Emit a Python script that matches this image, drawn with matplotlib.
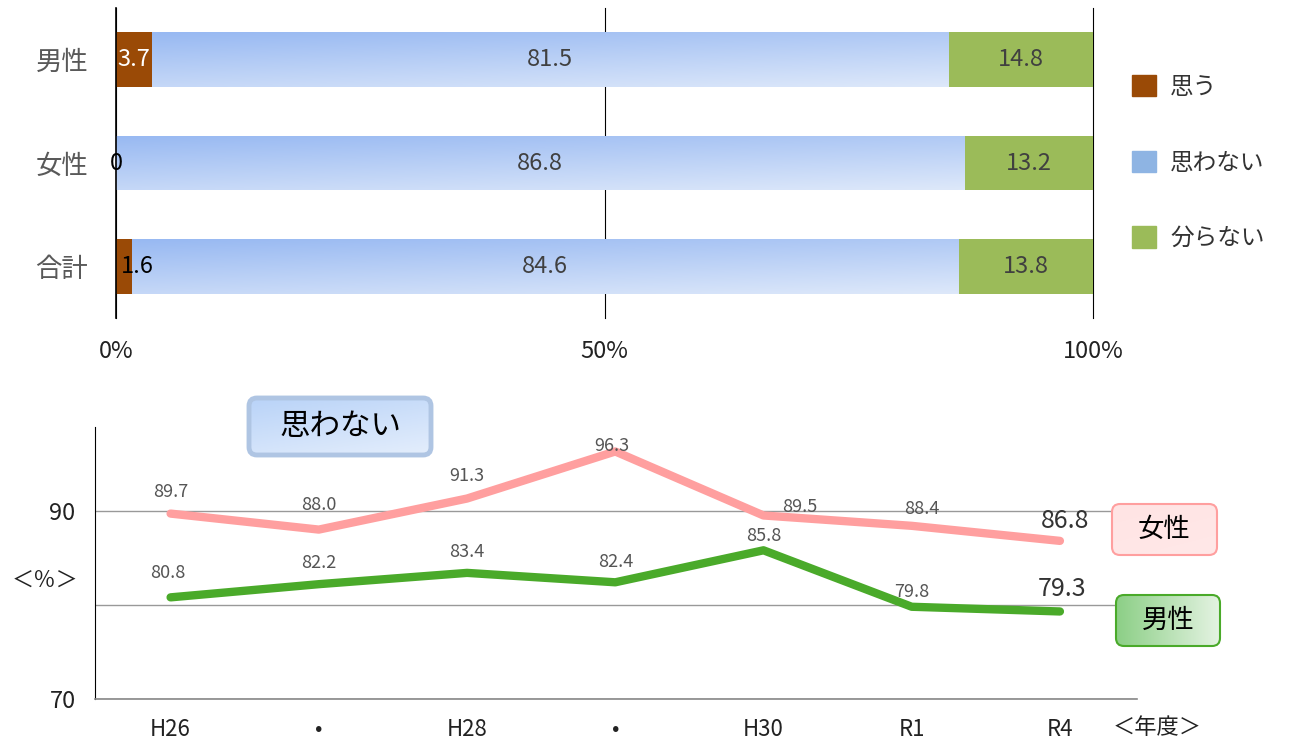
import matplotlib.pyplot as plt
import numpy as np
from matplotlib.colors import to_rgb
from matplotlib.patches import FancyBboxPatch, Patch

plt.rcParams['font.family'] = ['Noto Sans CJK JP', 'DejaVu Sans']

# --- top chart: stacked shares (%) ---
groups = ["男性", "女性", "合計"]
series_names = ["思う", "思わない", "分らない"]
omou = [3.7, 0.0, 1.6]
omowanai = [81.5, 86.8, 84.6]
wakaranai = [14.8, 13.2, 13.8]

# --- bottom chart: "思わない" trend (%) ---
years = ["H26", "•", "H28", "•", "H30", "R1", "R4"]
female = [89.7, 88.0, 91.3, 96.3, 89.5, 88.4, 86.8]
male = [80.8, 82.2, 83.4, 82.4, 85.8, 79.8, 79.3]

BROWN = "#9A4A06"
GREEN = "#9BBB59"
BLUE_LEG = "#8EB4E3"
PINK_LINE = "#FF9F9F"
GREEN_LINE = "#4AAA2A"
W, H = 1291, 746


def gradient(c0, c1, nx=64, ny=32, wx=0.35, wy=0.65):
    u = np.linspace(0, 1, nx)[None, :]
    v = np.linspace(0, 1, ny)[:, None]
    t = (wx * u + wy * v)[..., None]
    a, b = np.array(to_rgb(c0)), np.array(to_rgb(c1))
    return a + (b - a) * t


fig = plt.figure(figsize=(W / 100, H / 100), dpi=100)

# ---------------- top stacked bar ----------------
ax = fig.add_axes([116 / W, 1 - 318 / H, (1093 - 116) / W, (318 - 8) / H])
y = np.arange(len(groups))
bh = 0.53
left2 = np.array(omou)
left3 = left2 + np.array(omowanai)
ax.barh(y, omou, height=bh, color=BROWN, zorder=2)
blue = ax.barh(y, omowanai, left=left2, height=bh, color="#BBD0F5", zorder=2)
ax.barh(y, wakaranai, left=left3, height=bh, color=GREEN, zorder=2)

grad = gradient("#98B9F2", "#DDE8FA")
for p in blue.patches:
    x0, y0 = p.get_x(), p.get_y()
    im = ax.imshow(grad, extent=(x0, x0 + p.get_width(), y0 + p.get_height(), y0),
                   aspect="auto", zorder=2.5, interpolation="bilinear")
    im.set_clip_path(p)

for i in range(len(groups)):
    w = omou[i]
    if w == 0:
        ax.text(0, i, "0", ha="center", va="center", fontsize=17, color="black", zorder=4)
    elif w < 3:
        ax.text(0.5, i, f"{w}", ha="left", va="center", fontsize=17, color="black", zorder=4)
    else:
        ax.text(w / 2, i, f"{w}", ha="center", va="center", fontsize=17, color="white", zorder=4)
    ax.text(left2[i] + omowanai[i] / 2, i, f"{omowanai[i]}", ha="center", va="center",
            fontsize=17, color="#404040", zorder=4)
    ax.text(left3[i] + wakaranai[i] / 2, i, f"{wakaranai[i]}", ha="center", va="center",
            fontsize=17, color="#404040", zorder=4)

ax.set_xlim(0, 100)
ax.set_ylim(2.5, -0.5)
ax.set_xticks([0, 50, 100])
ax.set_xticklabels(["0%", "50%", "100%"])
ax.set_yticks(y)
ax.set_yticklabels(groups)
ax.tick_params(axis="x", length=0, pad=16, labelsize=17, labelcolor="#222222")
ax.tick_params(axis="y", length=0, pad=20, labelsize=19, labelcolor="#595959")
ax.grid(axis="x", color="black", linewidth=0.8, zorder=0)
for gl in ax.get_xgridlines():
    gl.set_clip_on(False)
ax.set_axisbelow(True)
for s in ["top", "right", "bottom"]:
    ax.spines[s].set_visible(False)
ax.spines["left"].set_zorder(5)
ax.spines["left"].set_linewidth(1.2)

handles = [Patch(color=BROWN), Patch(color=BLUE_LEG), Patch(color=GREEN)]
fig.legend(handles, series_names, loc="upper left", bbox_to_anchor=(1111 / W, 1 - 54 / H),
           frameon=False, fontsize=17, handlelength=1.0, handleheight=1.0,
           labelspacing=2.2, handletextpad=0.6, labelcolor="#333333")

# ---------------- bottom line chart ----------------
bx = fig.add_axes([95 / W, 1 - 699 / H, (1137 - 95) / W, (699 - 427) / H])
xs = np.arange(len(years))
bx.plot(xs, female, color=PINK_LINE, linewidth=6, solid_capstyle="round", zorder=3)
bx.plot(xs, male, color=GREEN_LINE, linewidth=6, solid_capstyle="round", zorder=3)

f_off = [(0, 22), (0, 25), (0, 23), (-3, 5), (36, 8), (10, 17), (5, 20)]
m_off = [(-3, 24), (0, 21), (0, 21), (0, 20), (0, 14), (0, 15), (2, 22)]
last = len(years) - 1
for i in range(len(years)):
    big = i == last
    for vals, offs in ((female, f_off), (male, m_off)):
        bx.annotate(f"{vals[i]:.1f}", (xs[i], vals[i]), xytext=offs[i],
                    textcoords="offset pixels", ha="center", va="center",
                    fontsize=18 if big else 13,
                    color="#333333" if big else "#555555", zorder=4)

bx.set_xlim(-0.51, 6.52)
bx.set_ylim(70, 98.9)
bx.set_yticks([70, 80, 90])
bx.set_yticklabels(["70", "", "90"])
bx.set_xticks(xs)
bx.set_xticklabels(years)
bx.tick_params(axis="x", length=0, pad=14, labelsize=16, labelcolor="#222222")
bx.tick_params(axis="y", length=0, pad=14, labelsize=17, labelcolor="#222222")
bx.grid(axis="y", color="#999999", linewidth=1, zorder=0)
for s in ["top", "right"]:
    bx.spines[s].set_visible(False)
bx.spines["left"].set_color("black")
bx.spines["bottom"].set_color("#888888")
bx.spines["bottom"].set_linewidth(1.2)

# overlay in pixel coordinates for label boxes and units
ov = fig.add_axes([0, 0, 1, 1])
ov.set_xlim(0, W)
ov.set_ylim(H, 0)
ov.axis("off")
ov.patch.set_alpha(0)

ov.text(45, 580, "＜％＞", ha="center", va="center", fontsize=16, color="#222222")
ov.text(1157, 728, "＜年度＞", ha="center", va="center", fontsize=16, color="#222222")


def box(x0, y0, w, h, text, edge, c0, c1, lw, fs, horiz=False):
    b = FancyBboxPatch((x0, y0), w, h, boxstyle="round,pad=0,rounding_size=8",
                       facecolor="none", edgecolor=edge, linewidth=lw, zorder=3)
    ov.add_patch(b)
    g = gradient(c0, c1, wx=1.0 if horiz else 0.35, wy=0.0 if horiz else 0.65)
    im = ov.imshow(g, extent=(x0, x0 + w, y0 + h, y0), aspect="auto",
                   zorder=2, interpolation="bilinear")
    im.set_clip_path(b)
    ov.text(x0 + w / 2, y0 + h / 2, text, ha="center", va="center",
            fontsize=fs, color="black", zorder=4)


box(249, 398, 182, 57, "思わない", "#AFC5E3", "#B9D3F8", "#E4EEFC", 3.5, 22)
box(1112, 504, 105, 51, "女性", PINK_LINE, "#FFE4E4", "#FFE8E8", 1.5, 19)
box(1116, 595, 104, 51, "男性", GREEN_LINE, "#8CCF86", "#E4F3E2", 1.5, 19, horiz=True)

ov.set_xlim(0, W)
ov.set_ylim(H, 0)

fig.savefig("out.png", dpi=100)
